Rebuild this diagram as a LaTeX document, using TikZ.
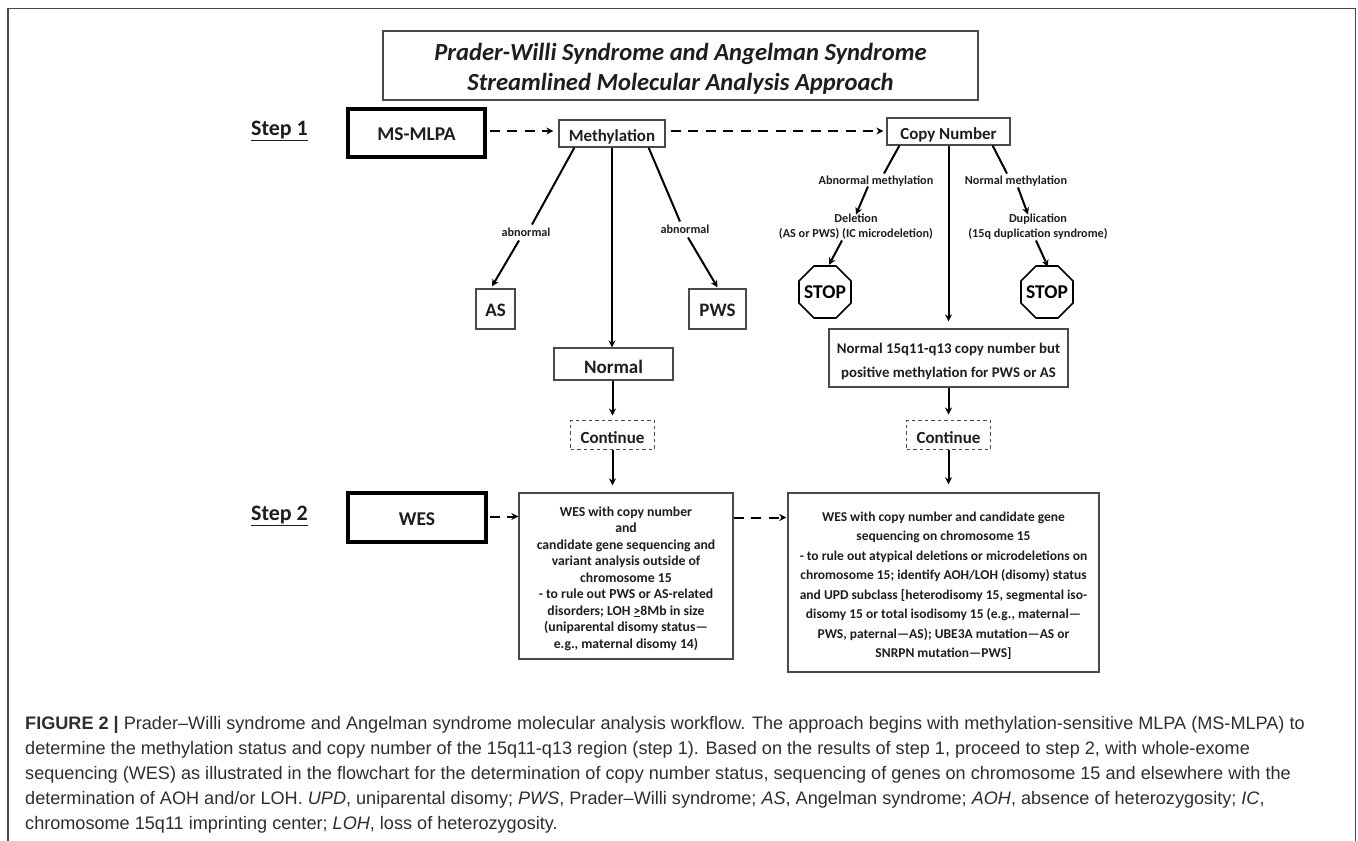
\documentclass[tikz,border=0pt]{standalone}
\usepackage{fontspec}
\setmainfont{Carlito}
\newfontfamily\capfont{Liberation Sans}
\usetikzlibrary{arrows.meta,calc}
\definecolor{ink}{HTML}{1E1E1E}
\definecolor{boxline}{HTML}{4A4A4A}
\newcommand{\fsz}[1]{\fontsize{#1}{#1}\selectfont}
\newcommand{\tup}[1]{\rule{0pt}{#1pt}}
\newcommand{\octagonround}[1]{\draw[draw=black,line width=1.6pt]
  ($(#1)+(-11,-26)$) -- ($(#1)+(11,-26)$) -- ($(#1)+(26,-11)$) -- ($(#1)+(26,11)$)
  -- ($(#1)+(11,26)$) -- ($(#1)+(-11,26)$) -- ($(#1)+(-26,11)$) -- ($(#1)+(-26,-11)$) -- cycle;}
\tikzset{
  plainbox/.style={draw=boxline,line width=1.3pt,inner sep=0pt,align=center,text=ink,font=\bfseries},
  heavybox/.style={draw=black,line width=3.6pt,inner sep=0pt,align=center,text=ink,font=\bfseries\fsz{19.5}},
  contbox/.style={draw=boxline,line width=1pt,dash pattern=on 3.5pt off 3pt,inner sep=0pt,text=ink,font=\bfseries\fsz{17},minimum width=84pt,minimum height=29pt},
  stepsign/.style={minimum width=52pt,minimum height=52pt,inner sep=0pt,text=black,font=\bfseries\fsz{19.5}},
  steplabel/.style={text=ink,font=\bfseries\fsz{22},inner sep=0pt},
  smalllabel/.style={text=ink,font=\bfseries\fsz{12.2},inner sep=0pt,align=center,text depth=0pt},
  flow/.style={draw=black,line width=2pt,-{Stealth[length=7pt,width=7pt]}},
  plain/.style={draw=black,line width=2pt},
  dashflow/.style={draw=black,line width=2pt,dash pattern=on 10pt off 7.5pt,-{Stealth[length=7pt,width=7pt]}},
}
\begin{document}
\begin{tikzpicture}[x=1pt,y=-1pt]
\useasboundingbox (0,0) rectangle (1358,841);
\fill[white] (0,0) rectangle (1358,841);
% outer frame
\coordinate (f1) at (8,841); \coordinate (f2) at (8,8.5); \coordinate (f3) at (1355.5,8.5); \coordinate (f4) at (1355.5,841);
\draw[draw=black!72,line width=1.4pt] (f1) -- (f2) -- (f3) -- (f4);
% title
\node[plainbox,minimum width=595pt,minimum height=69pt,font=\fontsize{24.6}{30}\selectfont\bfseries\itshape] (title) at (680.5,65.5)
  {\tup{23}Prader-Willi Syndrome and Angelman Syndrome\\Streamlined Molecular Analysis Approach};
% steps
\node[steplabel] (s1) at (279.5,131) {\underline{Step 1}};
\node[steplabel] (s2) at (279.5,516) {\underline{Step 2}};
\node[heavybox,minimum width=137pt,minimum height=48pt] (mlpa) at (416.5,133) {\tup{16}MS-MLPA};
\node[heavybox,minimum width=138pt,minimum height=49pt] (wes) at (417,517.5) {\tup{16}WES};
\node[plainbox,minimum width=106pt,minimum height=27pt,font=\bfseries\fsz{16.9}] (meth) at (612,133.5) {\tup{18}Methylation};
\node[plainbox,minimum width=123pt,minimum height=27pt,font=\bfseries\fsz{16.9}] (copy) at (948.5,131.5) {\tup{18}Copy Number};
% labels
\node[smalllabel] (abL) at (526,232) {abnormal};
\node[smalllabel] (abR) at (685,229) {abnormal};
\node[smalllabel] (abM) at (876,180) {Abnormal methylation};
\node[smalllabel] (noM) at (1016,180) {Normal methylation};
\node[smalllabel,font=\fontsize{12.2}{15}\selectfont\bfseries] (del) at (856,225.5) {Deletion\\(AS or PWS) (IC microdeletion)};
\node[smalllabel,font=\fontsize{12.2}{15}\selectfont\bfseries] (dup) at (1038,225.5) {Duplication\\(15q duplication syndrome)};
% results
\node[plainbox,minimum width=39pt,minimum height=40pt,font=\bfseries\fsz{19}] (as) at (495.5,309) {\tup{15}AS};
\node[plainbox,minimum width=57pt,minimum height=40pt,font=\bfseries\fsz{19}] (pws) at (717.5,309) {\tup{15}PWS};
\node[plainbox,minimum width=119pt,minimum height=32pt,font=\bfseries\fsz{19}] (normal) at (613.5,364) {\tup{20}Normal};
\node[stepsign] (stop1) at (825,292) {STOP};
\node[stepsign] (stop2) at (1047,292) {STOP};
\octagonround{stop1}
\octagonround{stop2}
\node[plainbox,minimum width=239pt,minimum height=58pt,font=\fontsize{14.8}{24}\selectfont\bfseries] (pos) at (948.5,358)
  {\tup{16.5}Normal 15q11-q13 copy number but\\positive methylation for PWS or AS};
\node[contbox] (c1) at (612.5,434.5) {\tup{18}Continue};
\node[contbox] (c2) at (948.5,434.5) {\tup{18}Continue};
\node[plainbox,minimum width=214pt,minimum height=166pt,font=\fontsize{13.7}{16.5}\selectfont\bfseries] (wes1) at (626,576)
  {\tup{14.5}WES with copy number\\and\\candidate gene sequencing and\\variant analysis outside of\\chromosome 15\\- to rule out PWS or AS-related\\disorders; LOH \underline{>}8Mb in size\\(uniparental disomy status—\\e.g., maternal disomy 14)};
\node[plainbox,minimum width=311pt,minimum height=179pt,line width=1.5pt,font=\fontsize{13.5}{19.5}\selectfont\bfseries] (wes2) at (943.5,582.5)
  {\tup{15.5}WES with copy number and candidate gene\\sequencing on chromosome 15\\- to rule out atypical deletions or microdeletions on\\chromosome 15; identify AOH/LOH (disomy) status\\and UPD subclass [heterodisomy 15, segmental iso-\\disomy 15 or total isodisomy 15 (e.g., maternal—\\PWS, paternal—AS); UBE3A mutation—AS or\\SNRPN mutation—PWS]};
% connectors
\draw[dashflow] ([xshift=3pt,yshift=2pt]mlpa.east) -- ([xshift=-5pt]meth.west |- 0,131);
\draw[dashflow] ([xshift=5pt,yshift=2.5pt]meth.east) -- ([xshift=-3pt]copy.west |- 0,131);
\draw[plain] ([xshift=16pt]meth.south west) -- ([xshift=6pt,yshift=3pt]abL.north);
\draw[flow] ([xshift=-7pt,yshift=-4pt]abL.south) -- ([xshift=-3.5pt,yshift=2pt]as.north);
\draw[flow] (meth.south) -- (normal.north -| meth.south);
\draw[plain] ([xshift=-17pt]meth.south east) -- ([xshift=-5pt,yshift=3pt]abR.north);
\draw[flow] ([xshift=3pt,yshift=-4pt]abR.south) -- ([yshift=1pt]pws.north);
\draw[plain] ([xshift=13pt]copy.south west) -- ([xshift=8pt,yshift=2pt]abM.north);
\draw[flow] ([xshift=-8pt,yshift=-2pt]abM.south) -- ([yshift=-1pt]del.north);
\draw[flow] ([xshift=-14pt,yshift=-3pt]del.south) -- ([xshift=4pt,yshift=1pt]stop1.north);
\draw[plain] ([xshift=-18pt]copy.south east) -- ([xshift=-9pt,yshift=2pt]noM.north);
\draw[flow] ([xshift=2pt,yshift=-3pt]noM.south) -- ([xshift=-10pt,yshift=-1pt]dup.north);
\draw[flow] ([xshift=-2pt,yshift=-3pt]dup.south) -- ([xshift=1pt,yshift=-1pt]stop2.north);
\draw[flow] (copy.south) -- ([yshift=7pt]pos.north);
\draw[flow] (normal.south -| c1) -- ([yshift=4pt]c1.north);
\draw[flow] (c1.south) -- ([yshift=7pt]wes1.north -| c1.south);
\draw[flow] (pos.south) -- ([yshift=5pt]c2.north);
\draw[flow] (c2.south) -- ([yshift=8pt]wes2.north -| c2.south);
\draw[dashflow] ([xshift=2pt,yshift=1pt]wes.east) -- (wes1.west |- 0,516.5);
\draw[dashflow] (wes1.east |- 0,517.5) -- ([xshift=-1pt]wes2.west |- 0,517.5);
% caption
\node[anchor=north west,align=left,inner sep=0pt,text=black!82,font=\capfont\fontsize{18.1}{25}\selectfont] (cap) at (25,716)
  {{\bfseries FIGURE 2 |} Prader–Willi syndrome and Angelman syndrome molecular analysis workflow. The approach begins with methylation-sensitive MLPA (MS-MLPA) to\\
  determine the methylation status and copy number of the 15q11-q13 region (step 1). Based on the results of step 1, proceed to step 2, with whole-exome\\
  sequencing (WES) as illustrated in the flowchart for the determination of copy number status, sequencing of genes on chromosome 15 and elsewhere with the\\
  determination of AOH and/or LOH. \textit{UPD}, uniparental disomy; \textit{PWS}, Prader–Willi syndrome; \textit{AS}, Angelman syndrome; \textit{AOH}, absence of heterozygosity; \textit{IC},\\
  chromosome 15q11 imprinting center; \textit{LOH}, loss of heterozygosity.};
\end{tikzpicture}
\end{document}
